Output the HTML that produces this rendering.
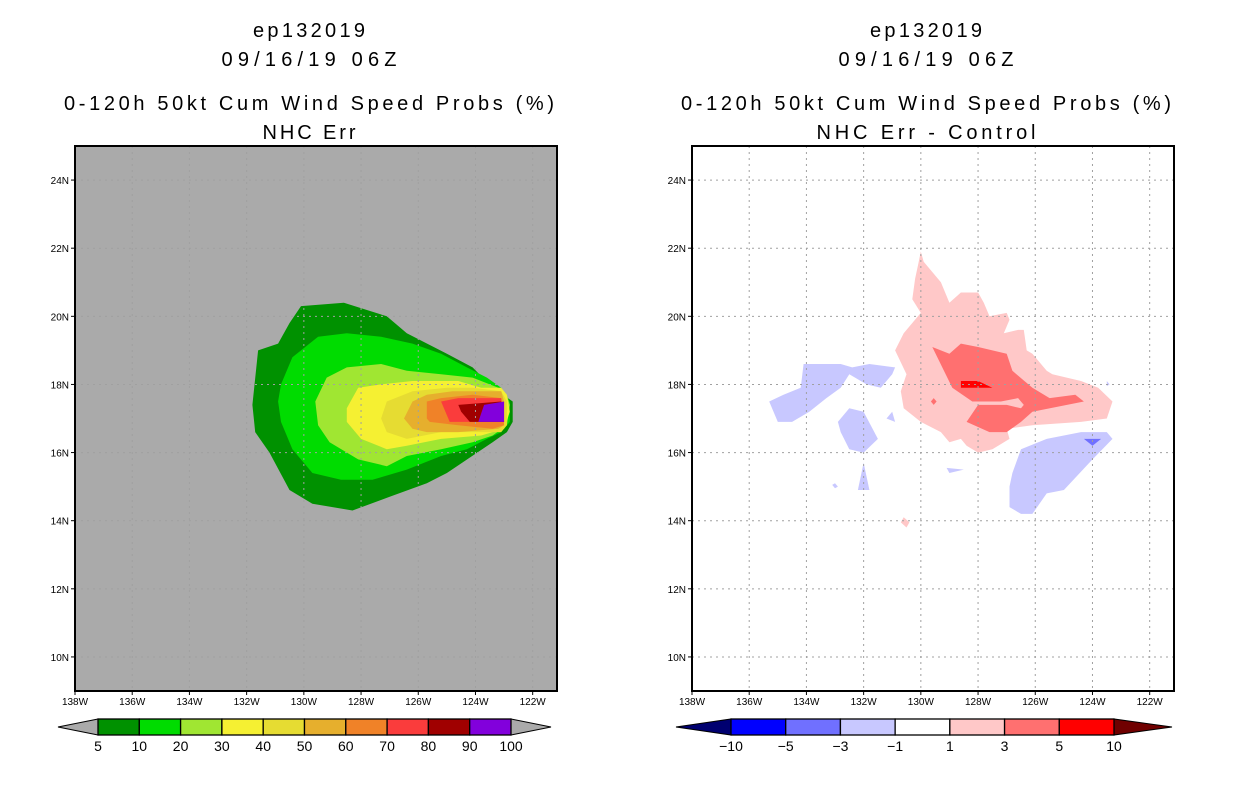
<!DOCTYPE html>
<html><head><meta charset="utf-8"><style>
body{margin:0;background:#fff;width:1236px;height:800px;overflow:hidden;font-family:"Liberation Sans",sans-serif}
svg text{font-family:"Liberation Sans",sans-serif}
</style></head><body>
<svg id="chart" width="1236" height="800" xmlns="http://www.w3.org/2000/svg">
<g id="titles" font-size="20" text-anchor="middle" fill="#000" lengthAdjust="spacing">
<text x="309" y="37" textLength="112" lengthAdjust="spacing">ep132019</text>
<text x="309" y="66" textLength="175" lengthAdjust="spacing">09/16/19 06Z</text>
<text x="309" y="110" textLength="490" lengthAdjust="spacing">0-120h 50kt Cum Wind Speed Probs (%)</text>
<text x="309" y="139" textLength="93" lengthAdjust="spacing">NHC Err</text>
<text x="926" y="37" textLength="112" lengthAdjust="spacing">ep132019</text>
<text x="926" y="66" textLength="175" lengthAdjust="spacing">09/16/19 06Z</text>
<text x="926" y="110" textLength="490" lengthAdjust="spacing">0-120h 50kt Cum Wind Speed Probs (%)</text>
<text x="926" y="139" textLength="219" lengthAdjust="spacing">NHC Err - Control</text>
</g>
<g id="left"></g>
<g id="right"></g>
<g id="cbars"></g>
</svg>
<script>
const lonTicks=[138,136,134,132,130,128,126,124,122];
const latTicks=[24,22,20,18,16,14,12,10];
const leftLevels=["5","10","20","30","40","50","60","70","80","90","100"];
const leftColors=["#009100","#00dc00","#a0e632","#f5f032","#e6dc32","#e6af2d","#f08228","#fa3c3c","#a00000","#8200dc"];
const rightLevels=["-10","-5","-3","-1","1","3","5","10"];
const rightColors=["#0000ff","#7070ff","#c8c8ff","#ffffff","#ffc8c8","#ff7070","#ff0000"];
// Left panel contour polygons [lon W, lat N]
const p5=[[130.1,20.3],[128.6,20.4],[127.1,20.0],[126.4,19.5],[125.0,18.9],[124.1,18.5],[123.4,17.9],[122.7,17.5],[122.7,16.9],[122.9,16.6],[123.4,16.3],[125.0,15.4],[125.7,15.1],[127.0,14.7],[128.3,14.3],[129.7,14.5],[130.5,14.9],[131.2,16.0],[131.7,16.6],[131.8,17.4],[131.6,19.0],[130.9,19.2],[130.5,19.8]];
const p10=[[130.8,18.0],[130.4,18.8],[129.5,19.4],[128.5,19.5],[127.3,19.4],[126.2,19.2],[125.2,18.9],[124.3,18.5],[123.6,18.2],[123.1,17.9],[122.8,17.5],[122.8,16.9],[123.1,16.6],[123.6,16.4],[124.3,16.1],[125.2,15.9],[126.4,15.5],[127.6,15.2],[128.7,15.2],[129.7,15.4],[130.4,16.1],[130.8,16.9],[130.9,17.5]];
const p20=[[129.6,17.5],[129.2,18.2],[128.5,18.5],[127.3,18.6],[126.4,18.4],[125.2,18.3],[124.1,18.2],[123.2,17.9],[122.9,17.7],[122.8,17.4],[122.9,16.8],[123.4,16.5],[124.1,16.3],[125.2,16.1],[126.4,15.9],[127.1,15.6],[128.1,15.8],[129.1,16.3],[129.5,16.8]];
const p30=[[128.5,17.3],[128.1,17.9],[127.3,18.0],[126.2,18.1],[124.6,18.1],[123.8,17.9],[123.1,17.9],[122.9,17.7],[122.8,17.2],[123.0,16.7],[123.8,16.5],[125.2,16.4],[126.4,16.2],[127.1,16.1],[128.0,16.4],[128.5,16.9]];
const p40=[[127.3,17.0],[127.1,17.5],[126.2,17.8],[125.0,17.9],[124.1,17.9],[123.1,17.8],[122.9,17.5],[122.9,16.8],[123.1,16.6],[124.1,16.6],[125.2,16.6],[126.4,16.4],[127.1,16.6]];
const p50=[[126.5,17.0],[126.2,17.5],[125.7,17.7],[124.8,17.8],[123.1,17.8],[123.0,17.5],[123.0,16.8],[123.2,16.7],[124.6,16.6],[125.7,16.6],[126.2,16.7]];
const p60=[[125.7,17.0],[125.7,17.5],[125.2,17.6],[124.1,17.7],[123.1,17.6],[123.0,16.8],[123.4,16.7],[124.6,16.8],[125.6,16.9]];
const p70=[[125.2,17.5],[124.6,17.6],[123.1,17.6],[123.0,16.9],[124.1,16.9],[124.9,16.9]];
const p80=[[124.6,17.4],[123.1,17.5],[123.0,16.9],[123.9,16.9],[124.2,16.9],[124.5,17.2]];
const p90=[[123.7,17.4],[123.0,17.5],[123.0,16.9],[123.9,16.9]];
// Right panel difference polygons
const pos1=[[130.0,21.9],[129.9,21.6],[129.3,21.0],[129.0,20.4],[128.6,20.7],[128.0,20.7],[127.8,20.4],[127.6,20.0],[127.0,20.1],[126.9,19.9],[127.1,19.5],[126.6,19.6],[126.4,19.6],[126.3,19.0],[126.1,18.9],[125.6,18.4],[125.4,18.3],[124.4,18.1],[123.8,17.9],[123.3,17.5],[123.5,17.0],[124.4,16.9],[126.1,16.8],[127.0,16.7],[126.9,16.4],[127.5,16.1],[128.0,16.0],[128.4,16.2],[128.6,16.4],[129.0,16.3],[129.3,16.6],[130.0,16.9],[130.6,17.3],[130.7,17.8],[130.5,18.3],[130.9,19.0],[130.6,19.5],[130.0,20.1],[130.3,20.5],[130.2,21.1],[130.1,21.5]];
const pos1b=[[130.6,14.1],[130.4,13.95],[130.5,13.8],[130.7,13.95]];
const pos3=[[129.6,19.1],[129.0,18.9],[128.6,19.2],[128.0,19.1],[127.0,18.9],[126.8,18.4],[126.1,17.9],[125.5,17.6],[124.6,17.7],[124.3,17.5],[126.1,17.2],[126.5,16.9],[127.0,16.6],[127.6,16.6],[128.4,16.9],[128.0,17.4],[127.5,17.4],[127.0,17.4],[126.5,17.3],[126.4,17.4],[126.6,17.6],[127.2,17.5],[128.2,17.5],[128.9,17.9]];
const pos3b=[[129.55,17.6],[129.45,17.5],[129.55,17.4],[129.65,17.5]];
const pos5=[[128.6,18.1],[128.0,18.1],[127.5,17.9],[128.6,17.9]];
const neg1a=[[135.3,17.5],[134.8,17.7],[134.2,17.9],[134.1,18.6],[132.8,18.6],[132.4,18.5],[131.8,18.6],[130.9,18.5],[131.0,18.3],[131.4,17.9],[131.9,18.0],[132.5,18.3],[132.8,17.9],[133.3,17.6],[133.9,17.2],[134.5,16.9],[135.0,16.9]];
const neg1b=[[132.9,16.9],[132.5,17.3],[132.0,17.2],[131.5,16.4],[132.0,16.0],[132.5,16.1],[132.8,16.6]];
const neg1c=[[131.2,17.0],[131.0,17.2],[130.9,16.9]];
const neg1d=[[132.0,15.7],[131.8,14.9],[132.0,14.9],[132.2,14.9]];
const neg1e=[[133.1,15.05],[133.0,15.1],[132.9,15.0],[133.0,14.95]];
const neg1f=[[129.1,15.55],[128.5,15.5],[129.0,15.4]];
const neg1g=[[126.5,16.1],[125.6,16.4],[124.4,16.6],[123.5,16.6],[123.3,16.4],[124.0,15.8],[125.0,14.9],[125.6,14.8],[126.1,14.2],[126.5,14.2],[126.9,14.4],[126.9,15.0],[126.8,15.4]];
const neg1h=[[123.5,18.1],[123.4,18.0],[123.5,17.95]];
const neg3=[[124.3,16.4],[123.7,16.4],[124.0,16.2]];

const NS="http://www.w3.org/2000/svg";
function mk(tag,attrs,parent){const e=document.createElementNS(NS,tag);for(const k in attrs)e.setAttribute(k,attrs[k]);parent.appendChild(e);return e;}
const TOP=146,BOT=691,W=482;
function xs(x0){return lon=>x0+(138-lon)*(W/16.85);}
function ys(lat){return TOP+(25-lat)*((BOT-TOP)/16);}

function panel(g,x0,bg,polys){
  const x=xs(x0);
  const r=mk('rect',{x:x0,y:TOP,width:W,height:BOT-TOP,fill:bg},g);
  
  
  polys.forEach(([pts,col,name])=>{
    const p=mk('polygon',{points:pts.map(d=>x(d[0]).toFixed(1)+','+ys(d[1]).toFixed(1)).join(' '),fill:col},g);
    
    
  });
  lonTicks.forEach(l=>{
    const gl=mk('line',{x1:x(l),x2:x(l),y1:TOP,y2:BOT,stroke:'#a0a0a0','stroke-dasharray':'2,4'},g);
    
    
    mk('line',{x1:x(l),x2:x(l),y1:BOT,y2:BOT+4,stroke:'#000'},g);
    const t=mk('text',{x:x(l),y:BOT+14,'font-size':10,'text-anchor':'middle'},g);
    t.textContent=l+'W';
    
    
  });
  latTicks.forEach(l=>{
    const gl=mk('line',{x1:x0,x2:x0+W,y1:ys(l),y2:ys(l),stroke:'#a0a0a0','stroke-dasharray':'2,4'},g);
    
    
    mk('line',{x1:x0-4,x2:x0,y1:ys(l),y2:ys(l),stroke:'#000'},g);
    const t=mk('text',{x:x0-6,y:ys(l)+4,'font-size':10,'text-anchor':'end'},g);
    t.textContent=l+'N';
    
    
  });
  const b=mk('rect',{x:x0,y:TOP,width:W,height:BOT-TOP,fill:'none',stroke:'#000','stroke-width':2},g);
  
  
}
panel(document.getElementById('left'),75,'#aaaaaa',[
 [p5,leftColors[0],'contour-5'],[p10,leftColors[1],'contour-10'],[p20,leftColors[2],'contour-20'],[p30,leftColors[3],'contour-30'],[p40,leftColors[4],'contour-40'],[p50,leftColors[5],'contour-50'],[p60,leftColors[6],'contour-60'],[p70,leftColors[7],'contour-70'],[p80,leftColors[8],'contour-80'],[p90,leftColors[9],'contour-90']]);
panel(document.getElementById('right'),692,'#ffffff',[
 [pos1,rightColors[4],'contour-pos1'],[pos1b,rightColors[4],'contour-pos1'],[pos3,rightColors[5],'contour-pos3'],[pos3b,rightColors[5],'contour-pos3'],[pos5,rightColors[6],'contour-pos5'],
 [neg1a,rightColors[2],'contour-neg1'],[neg1b,rightColors[2],'contour-neg1'],[neg1c,rightColors[2],'contour-neg1'],[neg1d,rightColors[2],'contour-neg1'],[neg1e,rightColors[2],'contour-neg1'],[neg1f,rightColors[2],'contour-neg1'],[neg1g,rightColors[2],'contour-neg1'],[neg1h,rightColors[2],'contour-neg1'],[neg3,rightColors[1],'contour-neg3']]);

function cbar(g,x0,x1,lt,rt,colors,labels,lcol,rcol,name){
  const y0=719,y1=735,ym=727,n=colors.length,w=(x1-x0)/n;
  const a=mk('polygon',{points:`${lt},${ym} ${x0},${y0} ${x0},${y1}`,fill:lcol,stroke:'#000','stroke-width':1},g);
  
  
  const c=mk('polygon',{points:`${rt},${ym} ${x1},${y0} ${x1},${y1}`,fill:rcol,stroke:'#000','stroke-width':1},g);
  
  
  colors.forEach((col,i)=>{
    const r=mk('rect',{x:x0+i*w,y:y0,width:w,height:y1-y0,fill:col,stroke:'#000','stroke-width':1.3},g);
    
    
  });
  labels.forEach((l,i)=>{
    const t=mk('text',{x:x0+i*w,y:751,'font-size':14,'text-anchor':'middle'},g);
    t.textContent=l.replace('-','\u2212');
    
    
  });
}
const cb=document.getElementById('cbars');
cbar(cb,98,511,58,551,leftColors,leftLevels,'#aaaaaa','#aaaaaa','left-colorbar');
cbar(cb,731,1114,676,1172,rightColors,rightLevels,'#000070','#700000','right-colorbar');
</script>
</body></html>
